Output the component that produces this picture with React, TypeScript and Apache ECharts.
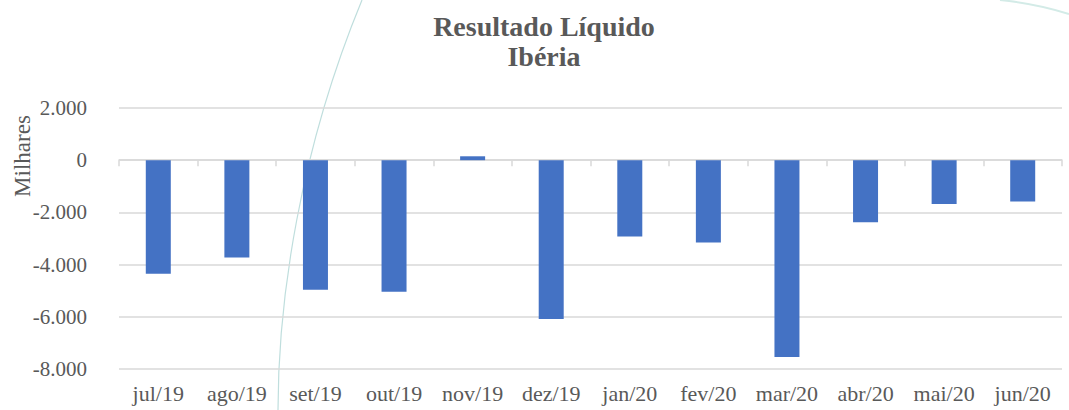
import React, { useEffect, useRef } from "react";
import * as echarts from "echarts";

const categories = ["jul/19", "ago/19", "set/19", "out/19", "nov/19", "dez/19", "jan/20", "fev/20", "mar/20", "abr/20", "mai/20", "jun/20"];
const resultado = [-4350, -3730, -4960, -5040, 150, -6080, -2920, -3150, -7540, -2380, -1680, -1580];
const yTicks = { min: -8000, max: 2000, interval: 2000 };
const titleLines = ["Resultado Líquido", "Ibéria"];
const yAxisName = "Milhares";

const FONT = "'Liberation Serif', 'Times New Roman', serif";
const GRAY = "#595959";

function fmt(v: number): string {
  const s = Math.abs(v).toString().replace(/\B(?=(\d{3})+(?!\d))/g, ".");
  return (v < 0 ? "-" : "") + s;
}

export default function App() {
  const ref = useRef<HTMLDivElement>(null);
  useEffect(() => {
    if (!ref.current) return;
    const chart = echarts.init(ref.current, undefined, { renderer: "svg" });
    chart.setOption({
      animation: false,
      backgroundColor: "#ffffff",
      title: {
        text: titleLines.join("\n"),
        left: 539,
        textAlign: "center",
        top: 6,
        textStyle: { fontFamily: FONT, fontWeight: "bold", fontSize: 28, color: GRAY, lineHeight: 30 },
      },
      grid: { left: 119, right: 7, top: 108, bottom: 41, containLabel: false },
      xAxis: [
        {
          type: "category",
          data: categories,
          position: "bottom",
          axisLine: { onZero: false, show: false },
          axisTick: { show: false },
          axisLabel: { fontFamily: FONT, fontSize: 22, color: GRAY, margin: 13, interval: 0 },
          splitLine: { show: false },
        },
        {
          type: "category",
          data: categories,
          position: "top",
          axisLine: { onZero: true, show: true, lineStyle: { color: "#d9d9d9", width: 1.5 } },
          axisTick: { show: true, inside: true, length: 6, lineStyle: { color: "#d9d9d9", width: 1.5 } },
          axisLabel: { show: false },
          splitLine: { show: false },
        },
      ],
      yAxis: {
        type: "value",
        min: yTicks.min,
        max: yTicks.max,
        interval: yTicks.interval,
        axisLine: { show: false },
        axisTick: { show: false },
        axisLabel: { fontFamily: FONT, fontSize: 21, color: GRAY, margin: 32, formatter: (v: number) => fmt(v) },
        splitLine: { lineStyle: { color: "#d9d9d9", width: 1.5 } },
      },
      graphic: [
        {
          type: "bezierCurve",
          z: 0,
          silent: true,
          shape: { x1: 362, y1: 0, cpx1: 300, cpy1: 150, cpx2: 278, cpy2: 300, x2: 278, y2: 410 },
          style: { stroke: "#bfdedd", lineWidth: 1.2, fill: null },
        },
        {
          type: "bezierCurve",
          z: 0,
          silent: true,
          shape: { x1: 1000, y1: 0, cpx1: 1030, cpy1: 3, cpx2: 1050, cpy2: 8, x2: 1069, y2: 14 },
          style: { stroke: "#d3ebe7", lineWidth: 2, fill: null },
        },
        {
          type: "text",
          x: 22,
          y: 156,
          rotation: Math.PI / 2,
          style: { text: yAxisName, font: `23px ${FONT}`, fill: GRAY, textAlign: "center", textVerticalAlign: "middle" },
        },
      ],
      series: [
        {
          type: "bar",
          data: resultado,
          xAxisIndex: 0,
          barWidth: 25,
          itemStyle: { color: "#4472C4" },
          z: 2,
        },
      ],
    });
    return () => chart.dispose();
  }, []);
  return <div ref={ref} style={{ position: "fixed", left: 0, top: 0, width: 1069, height: 410 }} />;
}
